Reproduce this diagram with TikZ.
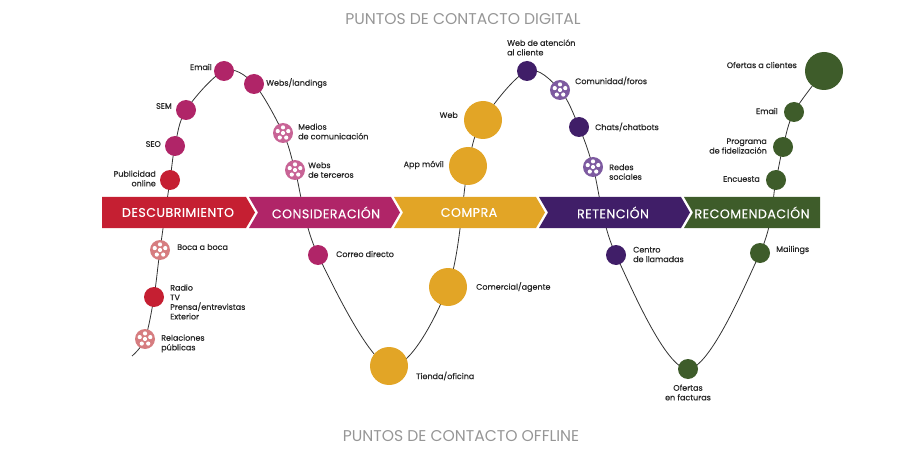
\documentclass[tikz,border=0pt]{standalone}
\usepackage{fontspec}
\setmainfont{Poppins}
\newfontfamily\lblfont{Poppins}[FakeBold=0.6]
\newfontfamily\bandfont{Poppins}[FakeBold=0.4, LetterSpace=4]
\usetikzlibrary{backgrounds}
\definecolor{cRed}{RGB}{197,31,50}
\definecolor{cMag}{RGB}{176,37,104}
\definecolor{cGold}{RGB}{226,165,38}
\definecolor{cPur}{RGB}{64,30,104}
\definecolor{cGreen}{RGB}{62,92,42}
\definecolor{cPinkA}{RGB}{214,125,128}
\definecolor{cPinkB}{RGB}{200,100,150}
\definecolor{cLilac}{RGB}{125,90,160}
\definecolor{cTitle}{RGB}{150,150,150}
\definecolor{cLine}{RGB}{50,50,50}
\begin{document}
\begin{tikzpicture}[x=1pt,y=-1pt,
  lbl/.style={font=\lblfont\fontsize{8}{9.6}\selectfont, text=black!85, inner sep=0pt},
  dot/.style={circle, inner sep=0pt, minimum size=20pt, fill=#1},
  big/.style={circle, inner sep=0pt, minimum size=38pt, fill=#1},
  reel/.style={dot=#1, path picture={
      \foreach \a in {270,340,200,55,125}
        \fill[white] ([shift={(\a:5.6)}]path picture bounding box.center) circle (2.1);
      \fill[white] (path picture bounding box.center) circle (2.1);}},
  band/.style={font=\bandfont\fontsize{12.6}{14}\selectfont, text=white, inner sep=0pt},
  ttl/.style={font=\fontsize{15.6}{17}\selectfont, text=cTitle, inner sep=0pt},
  curve/.style={draw=cLine, line width=0.8pt}]
\useasboundingbox (0,0) rectangle (907,449);

% titles
\node[ttl] (tdig) at (463,19) {PUNTOS DE CONTACTO DIGITAL};
\node[ttl] (toff) at (461,436) {PUNTOS DE CONTACTO OFFLINE};

% circles
\coordinate (start) at (132,356);
\node[reel=cPinkA] (relpub) at (145,339) {};
\node[dot=cRed] (radio) at (154,297) {};
\node[reel=cPinkA] (boca) at (160,250) {};
\node[dot=cRed] (pubon) at (170,180) {};
\node[dot=cMag] (seo) at (175,146) {};
\node[dot=cMag] (sem) at (186,110) {};
\node[dot=cMag] (emaila) at (224,71) {};
\node[dot=cMag] (webs) at (254,84) {};
\node[reel=cPinkB] (medios) at (283,133) {};
\node[reel=cPinkB] (webster) at (295,170) {};
\node[dot=cMag] (correo) at (318,255) {};
\node[big=cGold] (tienda) at (389,366) {};
\node[big=cGold] (comercial) at (448,287) {};
\node[big=cGold] (app) at (468,166) {};
\node[big=cGold] (web) at (483,120) {};
\node[dot=cPur] (webat) at (527,71) {};
\node[reel=cLilac] (comun) at (560,90) {};
\node[dot=cPur] (chats) at (579,127) {};
\node[reel=cLilac] (redes) at (593,167) {};
\node[dot=cPur] (centro) at (616,255) {};
\node[dot=cGreen] (ofact) at (688,369) {};
\node[dot=cGreen] (mailings) at (760,253) {};
\node[dot=cGreen] (encuesta) at (776,180) {};
\node[dot=cGreen] (progfid) at (783,147) {};
\node[dot=cGreen] (emailb) at (794,112) {};
\node[big=cGreen] (ofcli) at (824,71) {};

\begin{pgfonlayer}{background}
\draw[curve] plot[smooth, tension=0.55] coordinates {(start) (relpub) (radio) (boca) (pubon) (seo) (sem) (emaila) (webs) (medios) (webster) (correo) (tienda) (comercial) (app) (web) (webat) (comun) (chats) (redes) (centro) (ofact) (mailings) (encuesta) (progfid) (emailb) (ofcli)};
% banner
\fill[cRed] (102,197) -- (246,197) -- (255,212.5) -- (246,228) -- (102,228) -- cycle;
\fill[cMag] (249,197) -- (391,197) -- (400,212.5) -- (391,228) -- (249,228) -- (258,212.5) -- cycle;
\fill[cGold] (394,197) -- (536,197) -- (545,212.5) -- (536,228) -- (394,228) -- (403,212.5) -- cycle;
\fill[cPur] (539,197) -- (681,197) -- (690,212.5) -- (681,228) -- (539,228) -- (548,212.5) -- cycle;
\fill[cGreen] (684,197) -- (820,197) -- (820,228) -- (684,228) -- (693,212.5) -- cycle;
\end{pgfonlayer}

\node[band] (bdesc) at (178,212.5) {DESCUBRIMIENTO};
\node[band] (bcons) at (326,212.5) {CONSIDERACIÓN};
\node[band] (bcomp) at (469,212.5) {COMPRA};
\node[band] (bret) at (613,212.5) {RETENCIÓN};
\node[band] (breco) at (752,212.5) {RECOMENDACIÓN};

% labels
\node[lbl, anchor=east] (lemaila) at (212,67) {Email};
\node[lbl, anchor=west] (lwebs) at (266,83) {Webs/landings};
\node[lbl, anchor=east] (lsem) at (172,106) {SEM};
\node[lbl, anchor=east] (lseo) at (161,144) {SEO};
\node[lbl, anchor=east, align=right] (lpubon) at (156,178.5) {Publicidad\\online};
\node[lbl, anchor=west, align=left] (lmedios) at (298,131.5) {Medios\\de comunicación};
\node[lbl, anchor=west, align=left] (lwebster) at (308,170) {Webs\\de terceros};
\node[lbl, anchor=east] (lweb) at (458,115) {Web};
\node[lbl, anchor=east] (lapp) at (444,165) {App móvil};
\node[lbl, anchor=west, align=left] (lwebat) at (507,47.5) {Web de atención\\al cliente};
\node[lbl, anchor=west] (lcomun) at (575,81) {Comunidad/foros};
\node[lbl, anchor=west] (lchats) at (595,127) {Chats/chatbots};
\node[lbl, anchor=west, align=left] (lredes) at (609,172) {Redes\\sociales};
\node[lbl, anchor=east] (lofcli) at (797,65) {Ofertas a clientes};
\node[lbl, anchor=east] (lemailb) at (778,111) {Email};
\node[lbl, anchor=east, align=right] (lprogfid) at (767,146) {Programa\\de fidelización};
\node[lbl, anchor=east] (lencuesta) at (760,179) {Encuesta};
\node[lbl, anchor=west] (lboca) at (177,247) {Boca a boca};
\node[lbl, anchor=west, align=left] (lradio) at (170,302) {Radio\\TV\\Prensa/entrevistas\\Exterior};
\node[lbl, anchor=west, align=left] (lrelpub) at (161,343.5) {Relaciones\\públicas};
\node[lbl, anchor=west] (lcorreo) at (336,254) {Correo directo};
\node[lbl, anchor=west] (lcomercial) at (476,287) {Comercial/agente};
\node[lbl, anchor=west] (ltienda) at (416,376) {Tienda/oficina};
\node[lbl, anchor=west, align=left] (lcentro) at (633,254.5) {Centro\\de llamadas};
\node[lbl, align=center] (lofact) at (688,392.5) {Ofertas\\en facturas};
\node[lbl, anchor=west] (lmailings) at (776,250) {Mailings};
\end{tikzpicture}
\end{document}
